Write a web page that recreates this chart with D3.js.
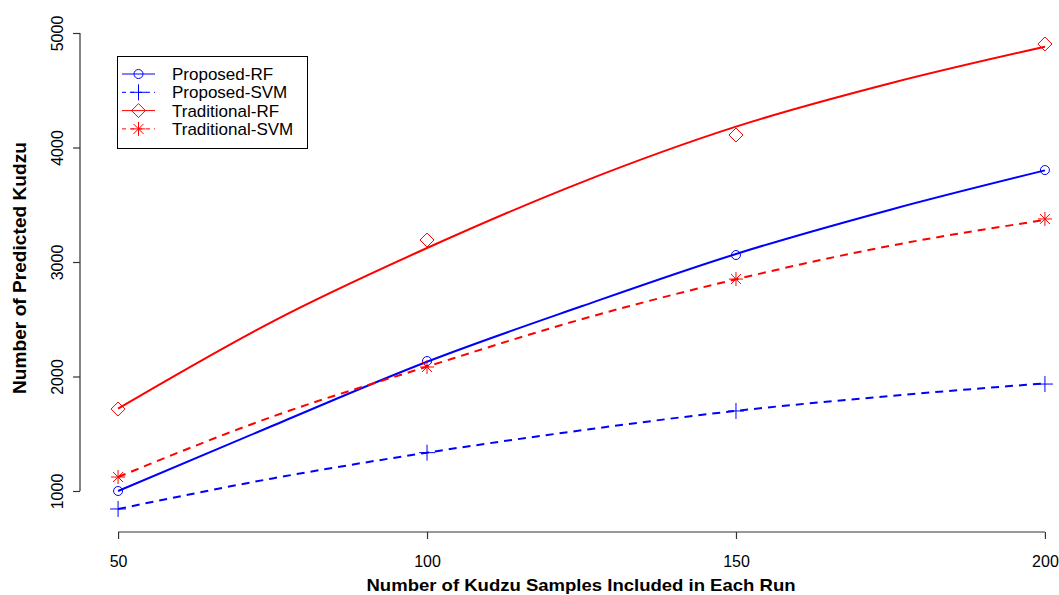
<!DOCTYPE html>
<html>
<head>
<meta charset="utf-8">
<script src="https://cdn.jsdelivr.net/npm/d3@7"></script>
<style>
  body { margin: 0; background: #fff; }
  svg { display: block; font-family: 'Liberation Sans', Arial, sans-serif; }
</style>
</head>
<body>
<svg id="chart" width="1059" height="595"></svg>
<script>
//

const sampleSizes = [50, 100, 150, 200]
const fitSizes = [50, 75, 100, 125, 150, 175, 200]
const yTicks = [1000, 2000, 3000, 4000, 5000]

// observed values (markers)
const proposedRF = [1000, 2135, 3061, 3803]
const proposedSVM = [843, 1335, 1699, 1934]
const traditionalRF = [1716, 3192, 4109, 4904]
const traditionalSVM = [1122, 2083, 2851, 3376]

// fitted curves at fitSizes
const proposedRFFit = [1000, 1570, 2129, 2613, 3070, 3457, 3800]
const proposedSVMFit = [843, 1110, 1335, 1530, 1700, 1830, 1940]
const traditionalRFFit = [1720, 2480, 3122, 3696, 4182, 4561, 4880]
const traditionalSVMFit = [1122, 1650, 2086, 2500, 2849, 3142, 3367]

const seriesNames = ['Proposed-RF', 'Proposed-SVM', 'Traditional-RF', 'Traditional-SVM']

//

const series = [
  { name: seriesNames[0], pts: proposedRF, fit: proposedRFFit, color: '#0000ff', dash: null, pch: 'circle' },
  { name: seriesNames[1], pts: proposedSVM, fit: proposedSVMFit, color: '#0000ff', dash: '8,6', pch: 'plus' },
  { name: seriesNames[2], pts: traditionalRF, fit: traditionalRFFit, color: '#ff0000', dash: null, pch: 'diamond' },
  { name: seriesNames[3], pts: traditionalSVM, fit: traditionalSVMFit, color: '#ff0000', dash: '8,6', pch: 'star' }
]

const svg = d3.select('#chart')

const x = d3.scaleLinear().domain([44, 206]).range([81, 1082])
const y = d3.scaleLinear().domain([1000, 5000]).range([491, 33])

// axes
const xAxis = d3.axisBottom(x)
  .tickValues(sampleSizes)
  .tickFormat(d3.format('d'))
  .tickSizeOuter(0)
  .tickSizeInner(7)
  .tickPadding(17)

const yAxis = d3.axisLeft(y)
  .tickValues(yTicks)
  .tickFormat(d3.format('d'))
  .tickSizeOuter(0)
  .tickSizeInner(7)

const gx = svg.append('g')
  .attr('transform', 'translate(0,532)')
  .call(xAxis)
gx.select('.domain').attr('d', `M${x(50)},0H${x(200)}`)

const gy = svg.append('g')
  .attr('transform', 'translate(80,0)')
  .call(yAxis)
gy.select('.domain').attr('d', `M0,${y(1000)}V${y(5000)}`)

svg.selectAll('.tick text')
  .attr('font-size', 16)
  .attr('font-family', "'Liberation Sans', Arial, sans-serif")
  .attr('fill', '#000')
svg.selectAll('.domain, .tick line').attr('stroke', '#333').attr('stroke-width', 1.2)

gy.selectAll('.tick text')
  .attr('text-anchor', 'middle')
  .attr('transform', 'rotate(-90)')
  .attr('x', 0)
  .attr('y', -17)
  .attr('dy', 0)

// titles
svg.append('text')
  .attr('x', 581)
  .attr('y', 591)
  .attr('text-anchor', 'middle')
  .attr('font-size', 17)
  .attr('font-weight', 'bold')
  .attr('textLength', 429)
  .attr('lengthAdjust', 'spacingAndGlyphs')
  .text('Number of Kudzu Samples Included in Each Run')

svg.append('text')
  .attr('transform', 'translate(26,268) rotate(-90)')
  .attr('text-anchor', 'middle')
  .attr('font-size', 18)
  .attr('font-weight', 'bold')
  .attr('textLength', 252)
  .attr('lengthAdjust', 'spacingAndGlyphs')
  .text('Number of Predicted Kudzu')

//

function drawMarker (g, type, color, cx, cy) {
  const m = g.append('g')
    .attr('transform', `translate(${cx},${cy})`)
    .attr('fill', 'none')
    .attr('stroke', color)
    .attr('stroke-width', 1)
  if (type === 'circle') {
    m.append('circle').attr('r', 4.5)
  } else if (type === 'plus') {
    m.append('path').attr('d', 'M-8,0H8M0,-8V8')
  } else if (type === 'diamond') {
    m.append('path').attr('d', 'M0,-7L7,0L0,7L-7,0Z')
  } else if (type === 'star') {
    m.append('path').attr('d', 'M-7,0H7M0,-7V7M-5,-5L5,5M-5,5L5,-5')
  }
}

const line = d3.line()
  .x((d) => x(d[0]))
  .y((d) => y(d[1]))
  .curve(d3.curveMonotoneX)

const plot = svg.append('g')

series.forEach((s) => {
  plot.append('path')
    .datum(fitSizes.map((v, i) => [v, s.fit[i]]))
    .attr('d', line)
    .attr('fill', 'none')
    .attr('stroke', s.color)
    .attr('stroke-width', 2)
    .attr('stroke-dasharray', s.dash)
  s.pts.forEach((v, i) => {
    drawMarker(plot, s.pch, s.color, x(sampleSizes[i]), y(v))
  })
})

// legend
const legend = svg.append('g')
legend.append('rect')
  .attr('x', 117.5).attr('y', 56.5)
  .attr('width', 190).attr('height', 92)
  .attr('fill', '#fff')
  .attr('stroke', '#000')

series.forEach((s, i) => {
  const ly = 74 + i * 18.3
  legend.append('line')
    .attr('x1', 122).attr('x2', 155)
    .attr('y1', ly).attr('y2', ly)
    .attr('stroke', s.color)
    .attr('stroke-width', 1)
    .attr('stroke-dasharray', s.dash ? '4,4' : null)
  drawMarker(legend, s.pch, s.color, 138.5, ly)
  legend.append('text')
    .attr('x', 172)
    .attr('y', ly + 6)
    .attr('font-size', 17)
    .text(s.name)
})
</script>
</body>
</html>
